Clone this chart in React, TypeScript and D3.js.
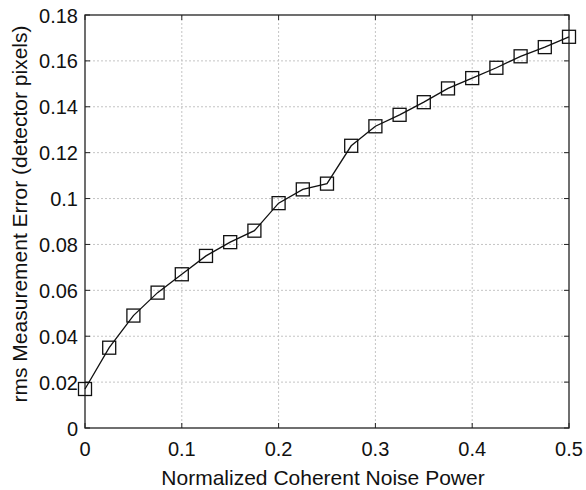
import React from "react";
import * as d3 from "d3";

const xValues = [0, 0.025, 0.05, 0.075, 0.1, 0.125, 0.15, 0.175, 0.2, 0.225, 0.25, 0.275, 0.3, 0.325, 0.35, 0.375, 0.4, 0.425, 0.45, 0.475, 0.5];
const yValues = [0.017, 0.035, 0.049, 0.059, 0.067, 0.075, 0.081, 0.086, 0.098, 0.104, 0.1065, 0.123, 0.1315, 0.1365, 0.142, 0.148, 0.1525, 0.157, 0.162, 0.166, 0.1705];
const xTicks = [0, 0.1, 0.2, 0.3, 0.4, 0.5];
const yTicks = [0, 0.02, 0.04, 0.06, 0.08, 0.1, 0.12, 0.14, 0.16, 0.18];
const xLabel = "Normalized Coherent Noise Power";
const yLabel = "rms Measurement Error (detector pixels)";

export default function App() {
  const W = 586, H = 490;
  const L = 85, R = 569, T = 15, B = 428;
  const x = d3.scaleLinear().domain([0, 0.5]).range([L, R]);
  const y = d3.scaleLinear().domain([0, 0.18]).range([B, T]);
  const pts = xValues.map((v, i) => [x(v), y(yValues[i])] as [number, number]);
  const line = d3.line()(pts) || "";
  const font = "Liberation Sans, Arial, sans-serif";
  const fmt = (v: number) => String(+v.toFixed(2));
  const ms = 13;
  return (
    <svg width={W} height={H} style={{ position: "absolute", left: 0, top: 0, background: "#fff" }}>
      <rect x={0} y={0} width={W} height={H} fill="#fff" />
      {xTicks.slice(1, -1).map((t) => (
        <line key={"gx" + t} x1={x(t)} x2={x(t)} y1={T} y2={B} stroke="#c4c4c4" strokeWidth={1} strokeDasharray="2,2" />
      ))}
      {yTicks.slice(1, -1).map((t) => (
        <line key={"gy" + t} x1={L} x2={R} y1={y(t)} y2={y(t)} stroke="#c4c4c4" strokeWidth={1} strokeDasharray="2,2" />
      ))}
      {xTicks.map((t) => (
        <g key={"tx" + t}>
          <line x1={x(t)} x2={x(t)} y1={B} y2={B - 5} stroke="#222" strokeWidth={1} />
          <line x1={x(t)} x2={x(t)} y1={T} y2={T + 5} stroke="#222" strokeWidth={1} />
          <text x={x(t)} y={B + 28} textAnchor="middle" fontFamily={font} fontSize={20} fill="#111">{fmt(t)}</text>
        </g>
      ))}
      {yTicks.map((t) => (
        <g key={"ty" + t}>
          <line x1={L} x2={L + 5} y1={y(t)} y2={y(t)} stroke="#222" strokeWidth={1} />
          <line x1={R} x2={R - 5} y1={y(t)} y2={y(t)} stroke="#222" strokeWidth={1} />
          <text x={L - 7} y={y(t) + 7.5} textAnchor="end" fontFamily={font} fontSize={20} fill="#111">{fmt(t)}</text>
        </g>
      ))}
      <rect x={L} y={T} width={R - L} height={B - T} fill="none" stroke="#222" strokeWidth={1.3} />
      <path d={line} fill="none" stroke="#111" strokeWidth={1.3} />
      {pts.map(([px, py], i) => (
        <rect key={i} x={px - ms / 2} y={py - ms / 2} width={ms} height={ms} fill="none" stroke="#111" strokeWidth={1.3} />
      ))}
      <text x={(L + R) / 2 - 4} y={485} textAnchor="middle" fontFamily={font} fontSize={21} fill="#111">{xLabel}</text>
      <text transform={`translate(27,214) rotate(-90)`} textAnchor="middle" fontFamily={font} fontSize={21} fill="#111">{yLabel}</text>
    </svg>
  );
}
